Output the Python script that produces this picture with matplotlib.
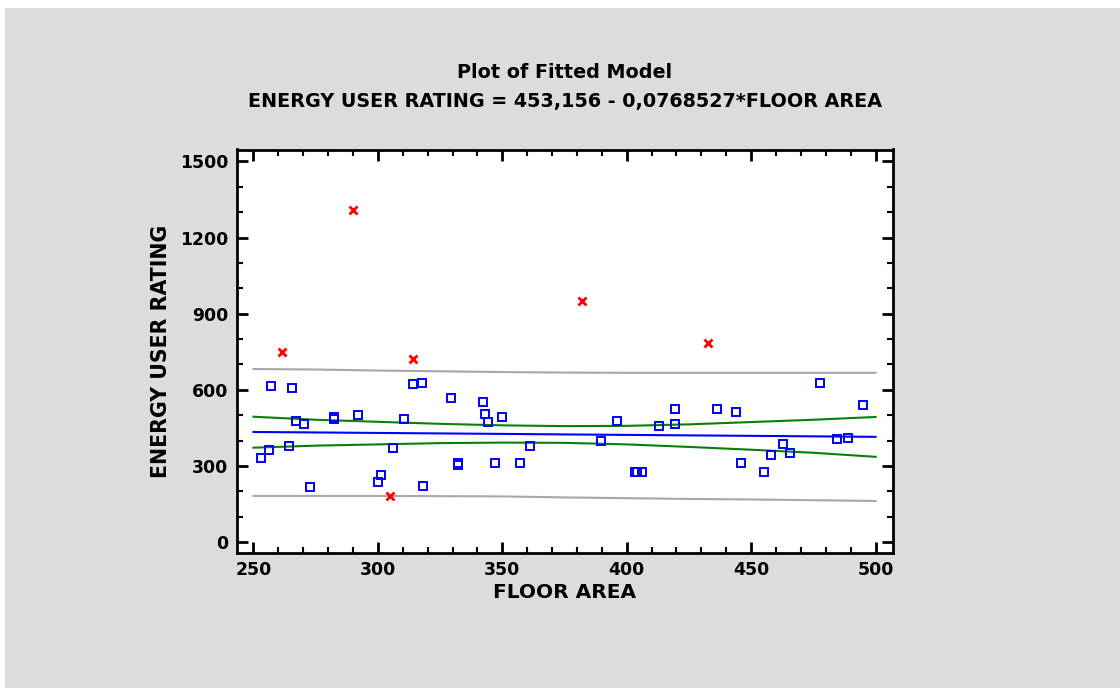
import matplotlib
matplotlib.use("Agg")
import matplotlib.pyplot as plt
from matplotlib.patches import Rectangle
from matplotlib.ticker import MultipleLocator

plt.rcParams['font.family'] = ['DejaVu Sans']

# ---- data ----
floor_area = [253.0, 256.4, 257.1, 264.2, 265.5, 267.1, 270.5, 272.6, 282.5, 282.5,
              292.2, 300.0, 301.4, 306.2, 310.4, 314.0, 317.6, 318.2, 329.4, 332.3,
              332.3, 342.2, 342.9, 344.1, 347.1, 349.9, 357.0, 361.0, 389.8, 396.2,
              403.3, 404.2, 406.0, 412.9, 419.4, 419.4, 436.1, 444.0, 446.0, 455.2,
              457.8, 462.9, 465.5, 477.6, 484.5, 489.0, 495.0]
energy_rating = [330, 364, 614, 377, 607, 478, 465, 216, 494, 485,
                 499, 235, 263, 370, 486, 622, 628, 222, 568, 313,
                 304, 553, 506, 473, 310, 493, 310, 377, 398, 478,
                 276, 276, 276, 458, 525, 465, 525, 512, 310, 276,
                 343, 385, 351, 627, 405, 411, 540]

excl_floor_area = [261.4, 290.2, 314.0, 304.9, 382.2, 432.7]
excl_energy_rating = [750, 1308, 721, 181, 951, 783]

band_x = [250, 275, 300, 325, 350, 375, 400, 425, 450, 475, 500]
fitted = [433.9, 432.0, 430.1, 428.2, 426.3, 424.3, 422.4, 420.5, 418.6, 416.7, 414.7]
conf_upper = [494, 482, 474, 466, 460, 457, 458, 464, 473, 482, 493]
conf_lower = [372, 380, 385, 390, 392, 391, 385, 375, 364, 352, 336]
pred_upper = [682, 680, 676, 673, 670, 668, 667, 667, 667, 667, 667]
pred_lower = [182, 182, 182, 181, 180, 176, 173, 170, 168, 165, 162]

x_ticks = [250, 300, 350, 400, 450, 500]
y_ticks = [0, 300, 600, 900, 1200, 1500]

title_lines = ["Plot of Fitted Model",
               "ENERGY USER RATING = 453,156 - 0,0768527*FLOOR AREA"]

# ---- figure ----
W, H = 1120, 688
fig = plt.figure(figsize=(W / 100, H / 100), dpi=100)
fig.patch.set_facecolor('white')
fig.patches.append(Rectangle((5 / W, 0), 1 - 5 / W, (H - 8) / H,
                             transform=fig.transFigure, facecolor='#dcdcdc',
                             edgecolor='none', zorder=-10))

ax = fig.add_axes([236.5 / W, (H - 553) / H, (893 - 236.5) / W, (553 - 149.5) / H])
ax.set_facecolor('white')

ax.plot(band_x, pred_upper, color='#a8a8a8', lw=1.5, zorder=2)
ax.plot(band_x, pred_lower, color='#a8a8a8', lw=1.5, zorder=2)
ax.plot(band_x, conf_upper, color='#088008', lw=1.5, zorder=2)
ax.plot(band_x, conf_lower, color='#088008', lw=1.5, zorder=2)
ax.plot(band_x, fitted, color='#0000ff', lw=1.5, zorder=2)

ax.plot(floor_area, energy_rating, linestyle='none', marker='s', markersize=5.2,
        markerfacecolor='none', markeredgecolor='#0000ff', markeredgewidth=1.4, zorder=3)
ax.plot(excl_floor_area, excl_energy_rating, linestyle='none', marker='x', markersize=6,
        markeredgecolor='#ff0000', markeredgewidth=2, zorder=3)

ax.set_xlim(243.2, 507.0)
ax.set_ylim(-43, 1547)
ax.set_xticks(x_ticks)
ax.set_yticks(y_ticks)
ax.xaxis.set_minor_locator(MultipleLocator(10))
ax.yaxis.set_minor_locator(MultipleLocator(100))
ax.tick_params(which='both', direction='in', top=True, right=True, colors='black')
ax.tick_params(which='major', length=8, width=2)
ax.tick_params(which='minor', length=4, width=1.5)
ax.tick_params(axis='both', which='major', labelsize=12.4, pad=6)
for lab in ax.get_xticklabels() + ax.get_yticklabels():
    lab.set_fontweight('bold')
for sp in ax.spines.values():
    sp.set_linewidth(2)

ax.set_xlabel("FLOOR AREA", fontsize=14.5, fontweight='bold', labelpad=3)
ax.set_ylabel("ENERGY USER RATING", fontsize=14.8, fontweight='bold', labelpad=6)

fig.text(564.5 / W, 1 - 73 / H, title_lines[0], ha='center', va='center',
         fontsize=13.8, fontweight='bold')
fig.text(564.5 / W, 1 - 102 / H, title_lines[1], ha='center', va='center',
         fontsize=13.8, fontweight='bold')

fig.savefig("out.png", dpi=100, facecolor=fig.get_facecolor())
